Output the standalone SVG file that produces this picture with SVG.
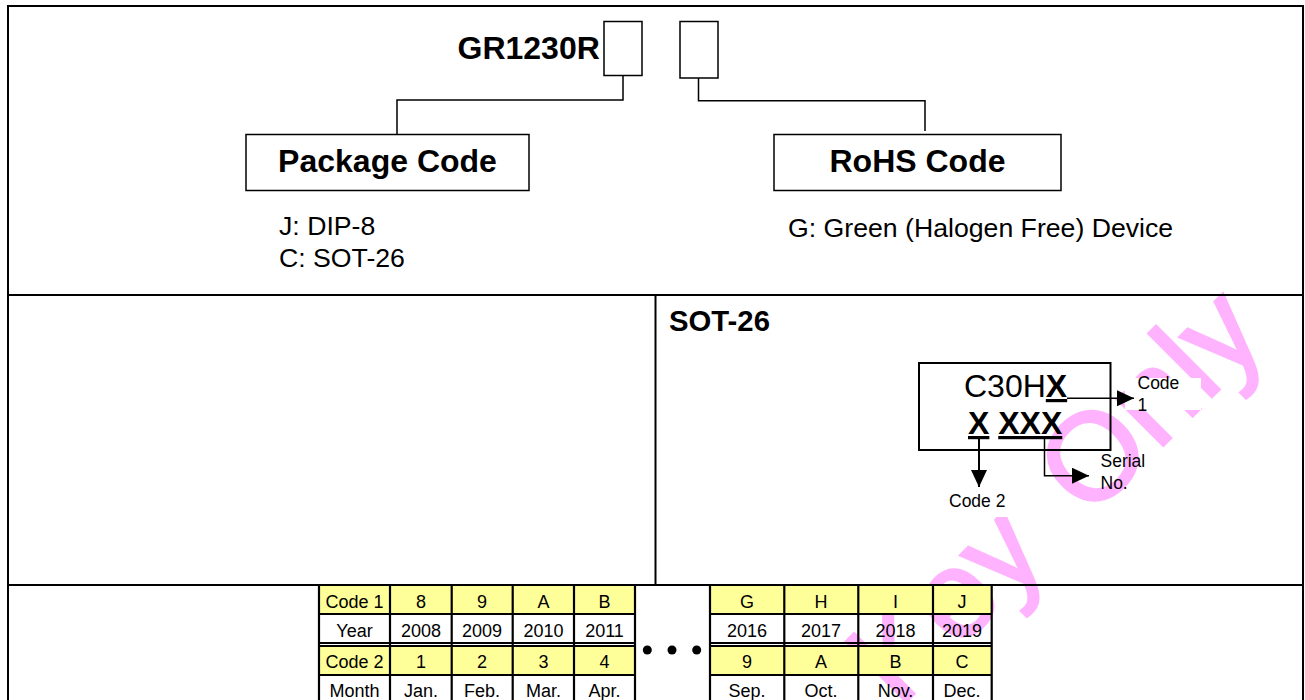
<svg xmlns="http://www.w3.org/2000/svg" width="1305" height="700" viewBox="0 0 1305 700">
<style>
text{font-family:"Liberation Sans",Arial,sans-serif;fill:#000}
text.wm{font-size:124px;fill:#ffb3ff;stroke:#ffb3ff;stroke-width:2.500}
.b{font-weight:bold}
.big{font-size:32px}
.mid{font-size:26.670px}
.sm{font-size:17.500px}
.c{text-anchor:middle;font-size:18px}
.f{fill:none;stroke:#000;stroke-width:2}
.t{fill:none;stroke:#000;stroke-width:1.500}
.y{fill:#ffff99}
.tl{fill:none;stroke:#000;stroke-width:2.200}
.arrow{fill:#000}
</style>
<defs>
<marker id="ah" markerUnits="userSpaceOnUse" markerWidth="17" markerHeight="16" refX="17" refY="8" orient="auto"><path d="M0 0L17 8L0 16Z" class="arrow"/></marker>
</defs>
<rect width="1305" height="700" fill="#fff"/>
<g id="watermark">
<text class="wm" transform="translate(899 709) rotate(-45)">Key</text>
<text class="wm" transform="translate(1089 520) rotate(-45)">Only</text>
<rect x="1125" y="378" width="76" height="32" fill="#fff"/>
<rect x="935" y="488" width="85" height="29" fill="#fff"/>
</g>
<g id="frame">
<rect class="f" x="8" y="6" width="1295" height="720"/>
<path class="f" d="M8 295H1303M8 585H1303M655.500 295V585"/>
</g>
<g id="part-number">
<text class="b big" x="457.500" y="59">GR1230R</text>
<rect class="t" x="604" y="21.500" width="38" height="54"/>
<rect class="t" x="680" y="21.500" width="38" height="56.500"/>
</g>
<g id="package-code">
<rect class="t" x="246" y="134.500" width="283" height="56"/>
<text class="b big" x="387.500" y="171.700" text-anchor="middle">Package Code</text>
<text class="mid" x="279" y="235">J: DIP-8</text>
<text class="mid" x="279" y="266.700">C: SOT-26</text>
</g>
<g id="rohs-code">
<rect class="t" x="774" y="134.500" width="287" height="56"/>
<text class="b big" x="917.500" y="171.700" text-anchor="middle">RoHS Code</text>
<text class="mid" x="788" y="237">G: Green (Halogen Free) Device</text>
</g>
<g id="connectors">
<path class="t" d="M623 75.500V100H397V134"/>
<path class="t" d="M698.500 78V100.700H925V131"/>
<path class="t" marker-end="url(#ah)" d="M1067 398.300H1134"/>
<path class="f" marker-end="url(#ah)" d="M979 439V487"/>
<path class="t" marker-end="url(#ah)" d="M1044.500 438V475.700H1089"/>
</g>
<g id="marking">
<text class="b" x="669" y="330.700" font-size="29.300">SOT-26</text>
<rect class="f" x="919" y="363" width="191.500" height="87"/>
<text font-size="32" x="964" y="397">C30H<tspan class="b" text-decoration="underline">X</tspan></text>
<text class="b" font-size="32" x="968" y="434"><tspan text-decoration="underline">X</tspan> <tspan text-decoration="underline">XXX</tspan></text>
<text class="sm" x="1137.500" y="389">Code</text>
<text class="sm" x="1137.500" y="411">1</text>
<text class="sm" x="1100.500" y="466.700">Serial</text>
<text class="sm" x="1100.500" y="489">No.</text>
<text class="sm" x="949" y="507">Code 2</text>
</g>
<g id="table-left">
<rect class="y" x="319" y="586" width="316" height="28"/>
<rect class="y" x="319" y="646" width="316" height="29"/>
<path class="tl" d="M319 585.700V700M390 585.700V700M451.700 585.700V700M512.700 585.700V700M574 585.700V700M635 585.700V700M319 614H635M319 643H635M319 646H635M319 675H635"/>
<text class="c" x="354.500" y="607.700">Code 1</text><text class="c" x="421" y="607.700">8</text><text class="c" x="482" y="607.700">9</text><text class="c" x="543.500" y="607.700">A</text><text class="c" x="604.500" y="607.700">B</text>
<text class="c" x="354.500" y="637.300">Year</text><text class="c" x="421" y="637.300">2008</text><text class="c" x="482" y="637.300">2009</text><text class="c" x="543.500" y="637.300">2010</text><text class="c" x="604.500" y="637.300">2011</text>
<text class="c" x="354.500" y="668.300">Code 2</text><text class="c" x="421" y="668.300">1</text><text class="c" x="482" y="668.300">2</text><text class="c" x="543.500" y="668.300">3</text><text class="c" x="604.500" y="668.300">4</text>
<text class="c" x="354.500" y="696.700">Month</text><text class="c" x="421" y="696.700">Jan.</text><text class="c" x="482" y="696.700">Feb.</text><text class="c" x="543.500" y="696.700">Mar.</text><text class="c" x="604.500" y="696.700">Apr.</text>
</g>
<g id="ellipsis">
<circle cx="647.300" cy="650" r="4.500"/><circle cx="672" cy="650" r="4.500"/><circle cx="696.700" cy="650" r="4.500"/>
</g>
<g id="table-right">
<rect class="y" x="710" y="586" width="282" height="28"/>
<rect class="y" x="710" y="646" width="282" height="29"/>
<path class="tl" d="M710 585.700V700M784.300 585.700V700M858.300 585.700V700M933 585.700V700M991.700 585.700V700M710 614H992M710 643H992M710 646H992M710 675H992"/>
<text class="c" x="747" y="607.700">G</text><text class="c" x="821" y="607.700">H</text><text class="c" x="895.500" y="607.700">I</text><text class="c" x="962" y="607.700">J</text>
<text class="c" x="747" y="637.300">2016</text><text class="c" x="821" y="637.300">2017</text><text class="c" x="895.500" y="637.300">2018</text><text class="c" x="962" y="637.300">2019</text>
<text class="c" x="747" y="668.300">9</text><text class="c" x="821" y="668.300">A</text><text class="c" x="895.500" y="668.300">B</text><text class="c" x="962" y="668.300">C</text>
<text class="c" x="747" y="696.700">Sep.</text><text class="c" x="821" y="696.700">Oct.</text><text class="c" x="895.500" y="696.700">Nov.</text><text class="c" x="962" y="696.700">Dec.</text>
</g>
</svg>
